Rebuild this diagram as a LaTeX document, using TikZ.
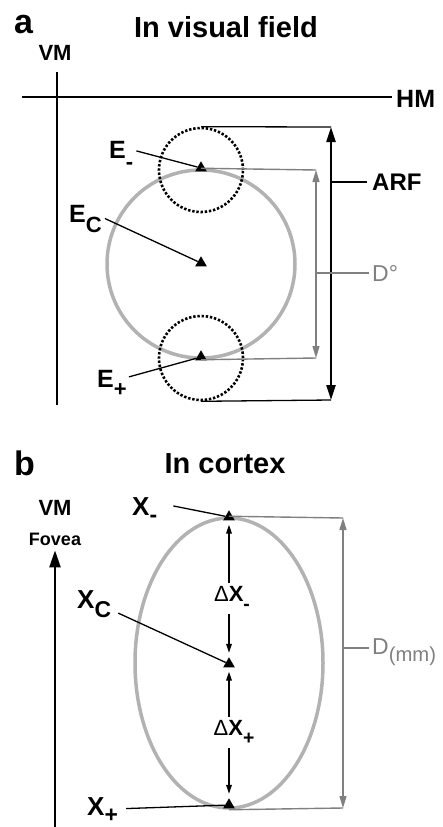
\documentclass[tikz,border=0pt]{standalone}
\usepackage{fontspec}
\usepackage{graphicx}
\setmainfont{Liberation Sans}
\usetikzlibrary{arrows.meta,positioning,shapes.geometric,calc}
\newcommand{\lsub}[2][-0.4]{\raisebox{#1em}{\scalebox{.88}{#2}}}

\begin{document}
\begin{tikzpicture}[x=1pt,y=-1pt,
head/.style={font=\fontsize{29}{30}\selectfont\bfseries,inner sep=0pt,anchor=base},
panel/.style={font=\fontsize{34}{36}\selectfont\bfseries,inner sep=0pt,anchor=base west},
axlbl/.style={font=\fontsize{22}{24}\selectfont\bfseries,inner sep=0pt,anchor=base},
lbl/.style={font=\fontsize{25}{26}\selectfont\bfseries,inner sep=0pt,anchor=base west},
xlbl/.style={font=\fontsize{26}{28}\selectfont\bfseries,inner sep=0pt,anchor=base west},
dlbl/.style={font=\fontsize{22}{24}\selectfont\bfseries,inner sep=3pt,anchor=base},
gtxt/.style={font=\fontsize{23}{24}\selectfont,text=black!50,inner sep=0pt,anchor=west},
tri/.style={regular polygon,regular polygon sides=3,fill=black,inner sep=0pt,minimum size=13.5pt},
rf/.style={circle,draw=black!30,line width=3.5pt,minimum size=188pt,inner sep=0pt},
ell/.style={ellipse,draw=black!30,line width=3.5pt,minimum width=188pt,minimum height=290pt,inner sep=0pt},
dotc/.style={circle,draw,line width=2.6pt,dash pattern=on 2.4pt off 1.8pt,minimum size=84pt,inner sep=0pt},
axis/.style={line width=2.2pt},
lead/.style={line width=1.3pt},
tick/.style={line width=1.5pt,shorten >=5pt},
gline/.style={line width=1.4pt,black!50},
garrow/.style={gline,{Triangle[length=12pt,width=7pt]}-{Triangle[length=12pt,width=7pt]}},
barrow/.style={axis,{Triangle[length=15pt,width=9pt]}-{Triangle[length=15pt,width=9pt]}},
dim/.style={line width=1.5pt,-{Triangle[length=9pt,width=5.5pt]},shorten >=4pt}]
\useasboundingbox (0,0) rectangle (442,827);
\node[panel](pa) at (14,33){a};
\node[head](ta) at (226,37){In visual field};
\node[axlbl](vma) at (55,60){VM};
\node[axlbl,font=\fontsize{25}{26}\selectfont\bfseries,anchor=base west](hm) at (396,107){HM};
\coordinate(vmt) at (57,72);\coordinate(vmb) at (57,405);\coordinate(hml) at (22,97);
\draw[axis](vmt)--(vmb);\draw[axis,shorten >=4pt](hml)--(hml -| hm.west);
\node[rf](rf) at (201,264){};
\node[dotc](cm) at (201,170){};
\node[dotc](cp) at (201,358){};
\node[tri](em) at (201,168){};
\node[tri](ec) at (201,263){};
\node[tri](ep) at (201,357){};
\node[lbl](eml) at (109,158){E\lsub[-0.44]{-}};
\node[lbl](ecl) at (69,222){E\lsub[-0.4]{C}};
\node[lbl](epl) at (97,387){E\lsub[-0.36]{+}};
\draw[lead]([shift={(3pt,4pt)}]eml.east)--(em);
\draw[lead]([shift={(3pt,0pt)}]ecl.east)--(ec);
\draw[lead]([shift={(2pt,6pt)}]epl.east)--(ep);
\coordinate(arft) at (331,127);\coordinate(arfb) at (331,400);
\node[axlbl,font=\fontsize{24}{26}\selectfont\bfseries,anchor=west](arf) at (372,182){ARF};
\draw[lead](cm.north)--(arft);\draw[lead](cp.south)--(arfb);
\draw[barrow](arfb)--(arft);\draw[tick](arf.west -| arft)--(arf.west);
\coordinate(dt) at (316,170);\coordinate(db) at (316,358);
\node[gtxt](dd) at (372,273){D°};
\draw[gline](rf.north)--(dt);\draw[gline](rf.south)--(db);
\draw[garrow](db)--(dt);\draw[gline,shorten >=3pt](dd.west -| dt)--(dd.west);
\node[panel](pb) at (14,475){b};
\node[head](tb) at (225,473){In cortex};
\node[axlbl](vmc) at (55,515){VM};
\node[axlbl,font=\fontsize{18}{20}\selectfont\bfseries,inner sep=5pt](fov) at (55,545){Fovea};
\coordinate(fb) at (55,827);
\draw[axis,-{Triangle[length=17pt,width=11pt]}](fb)--(fov.south);
\node[ell](el) at (229,663){};
\node[tri](xm) at (229,517){};
\node[tri](xc) at (229,664){};
\node[tri](xp) at (229,805){};
\node[xlbl](xml) at (132,515){X\lsub[-0.3]{-}};
\node[xlbl](xcl) at (77,608){X\lsub[-0.38]{C}};
\node[xlbl](xpl) at (87,815){X\lsub[-0.27]{+}};
\draw[lead]([shift={(16pt,4pt)}]xml.east)--(xm);
\draw[lead]([shift={(7pt,-9pt)}]xcl.east)--(xc);
\draw[lead]([shift={(8pt,1pt)}]xpl.east)--(xp);
\node[dlbl](dxm) at (232,601){{\mdseries Δ}X\lsub[-0.45]{-}};
\node[dlbl](dxp) at (234,735){{\mdseries Δ}X\lsub[-0.45]{+}};
\draw[dim](dxm.north -| xm)--(xm);\draw[dim](dxm.south -| xm)--(xc);
\draw[dim](dxp.north -| xc)--(xc);\draw[dim](dxp.south -| xp)--(xp);
\coordinate(dt2) at (343,518);\coordinate(db2) at (343,808);
\node[gtxt](dmm) at (372,652){D\lsub[-0.3]{(mm)}};
\draw[gline](el.north)--(dt2);\draw[gline](el.south)--(db2);
\draw[garrow](db2)--(dt2);\draw[gline,shorten >=3pt]([yshift=4pt]dmm.west -| dt2)--([yshift=4pt]dmm.west);
\end{tikzpicture}
\end{document}
